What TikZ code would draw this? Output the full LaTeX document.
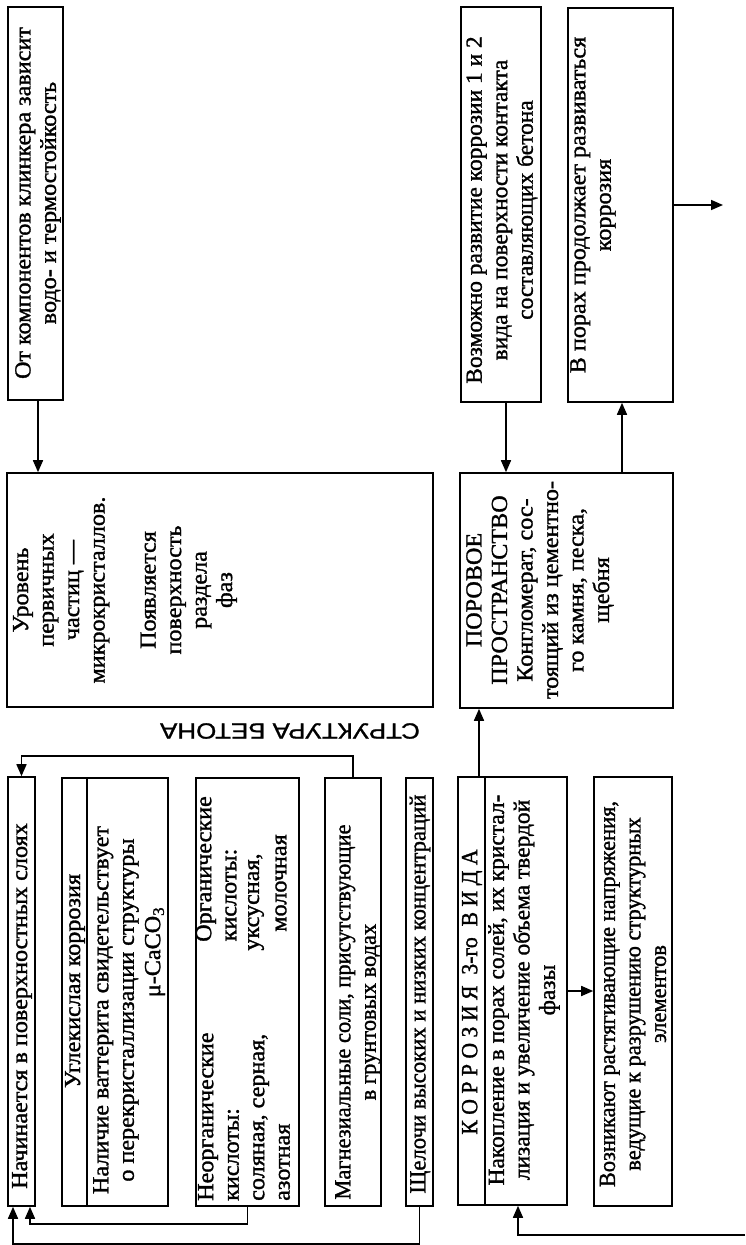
\documentclass[tikz,border=0pt]{standalone}
\usepackage{fontspec}
\setmainfont[FakeBold=1.3]{Liberation Serif}
\newfontfamily\labelfont[FakeBold=1]{Liberation Sans}
\usetikzlibrary{arrows.meta}
\begin{document}
\begin{tikzpicture}[x=1pt,y=-1pt,
  box/.style={draw, line width=1.6pt, minimum width=#1, inner sep=0pt},
  vt/.style={rotate=90, xscale=1.05, align=center, inner sep=0pt,
    font=\fontsize{23}{25.5}\selectfont},
  tight/.style={xscale=0.97},
  arr/.style={line width=1.6pt, -{Triangle[length=12pt,width=10pt]}},
  link/.style={line width=1.6pt}]
\useasboundingbox (0,0) rectangle (745,1245);

% upper row
\node[box=55pt, minimum height=393pt] (A) at (35.5,203.5) {};
\node[box=426pt, minimum height=234pt] (B) at (220,590) {};
\node[box=80pt, minimum height=395pt] (C) at (501,204.5) {};
\node[box=105pt, minimum height=394pt] (D) at (620.5,205) {};
\node[box=213pt, minimum height=235pt] (E) at (566.5,590.5) {};

% lower row
\node[box=27pt, minimum height=429pt] (F) at (21.5,991.5) {};
\node[box=106pt, minimum height=428pt] (G) at (115,992) {};
\node[box=103pt, minimum height=428pt] (H) at (247.5,992) {};
\node[box=56pt, minimum height=428pt] (I) at (353,992) {};
\node[box=27pt, minimum height=428pt] (J) at (419.5,992) {};
\node[box=109pt, minimum height=428pt] (K) at (512.5,991) {};
\node[box=78pt, minimum height=429pt] (L) at (633,991.5) {};

% header strips
\draw[link] ([xshift=26pt]G.north west) -- ([xshift=26pt]G.south west);
\draw[link] ([xshift=28pt]K.north west) -- ([xshift=28pt]K.south west);

% texts
\node[vt] (tA) at (38,203) {От компонентов клинкера зависит\\водо- и термостойкость};
\node[vt] (tB) at (125,590) {Уровень\\первичных\\частиц —\\микрокристаллов.\\[25.5pt]Появляется\\поверхность\\раздела\\фаз};
\node[vt, tight] (tC) at (502,210) {Возможно развитие коррозии 1 и 2\\вида на поверхности контакта\\составляющих бетона};
\node[vt] (tD) at (593,205) {В порах продолжает развиваться\\коррозия};
\node[vt] (tE) at (540,590) {ПОРОВОЕ\\ПРОСТРАНСТВО\\Конгломерат, сос-\\тоящий из цементно-\\го камня, песка,\\щебня};
\node[vt] (tF) at (22,1006) {Начинается в поверхностных слоях};
\node[vt] (tG1) at (75,981) {Углекислая коррозия};
\node[vt] (tG2) at (116,1010) {Наличие ваттерита свидетельствует\\о перекристаллизации структуры};
\node[vt] (tG3) at (155,952) {μ-CaCO\textsubscript{3}};
\node[vt, align=left, anchor=west] (tH1) at (244,1201) {Неорганические\\кислоты:\\соляная, серная,\\азотная};
\node[vt] (tH2) at (206,869) {Органические};
\node[vt] (tH3) at (231,895) {кислоты:};
\node[vt] (tH4) at (256,902) {уксусная,};
\node[vt] (tH5) at (281,883) {молочная};
\node[vt, xscale=0.93] (tI) at (358,1012) {Магнезиальные соли, присутствующие\\в грунтовых водах};
\node[vt, xscale=0.94] (tJ) at (420,994) {Щелочи высоких и низких концентраций};
\node[vt, xscale=0.9] (tK1) at (472,992) {К О Р Р О З И Я\ \ 3-го\ \ В И Д А};
\node[vt, tight] (tK2) at (524,990) {Накопление в порах солей, их кристал-\\лизация и увеличение объема твердой\\фазы};
\node[vt, xscale=0.93] (tL) at (633,994) {Возникают растягивающие напряжения,\\ведущие к разрушению структурных\\элементов};
\node[rotate=180, xscale=1.18, inner sep=0pt, font=\labelfont\fontsize{22}{22}\selectfont] (title) at (290,731) {СТРУКТУРА БЕТОНА};

% connectors
\coordinate (Dout) at (723,205);
\coordinate (Rin) at (745,1235);
\draw[arr] ([xshift=2.5pt]A.south) -- ([xshift=2.5pt]A.south |- B.north);
\draw[arr] ([xshift=5pt]C.south) -- ([xshift=5pt]C.south |- E.north);
\draw[arr] ([xshift=55.5pt]E.north) -- ([xshift=55.5pt]E.north |- D.south);
\draw[arr] (D.east) -- (Dout);
\draw[arr] ([xshift=-33.5pt]K.north) -- ([xshift=-33.5pt]K.north |- E.south);
\draw[arr] (K.east) -- (K.east -| L.west);
\draw[arr] (Rin) -| ([xshift=5.5pt]K.south);
\draw[arr] (I.north) -- ++(0,-21) -| (F.north);
\draw[arr] (H.south) -- ++(0,17) -| ([xshift=8.5pt]F.south);
\draw[arr] (J.south) -- ++(0,37) -| ([xshift=-8.5pt]F.south);
\end{tikzpicture}
\end{document}
